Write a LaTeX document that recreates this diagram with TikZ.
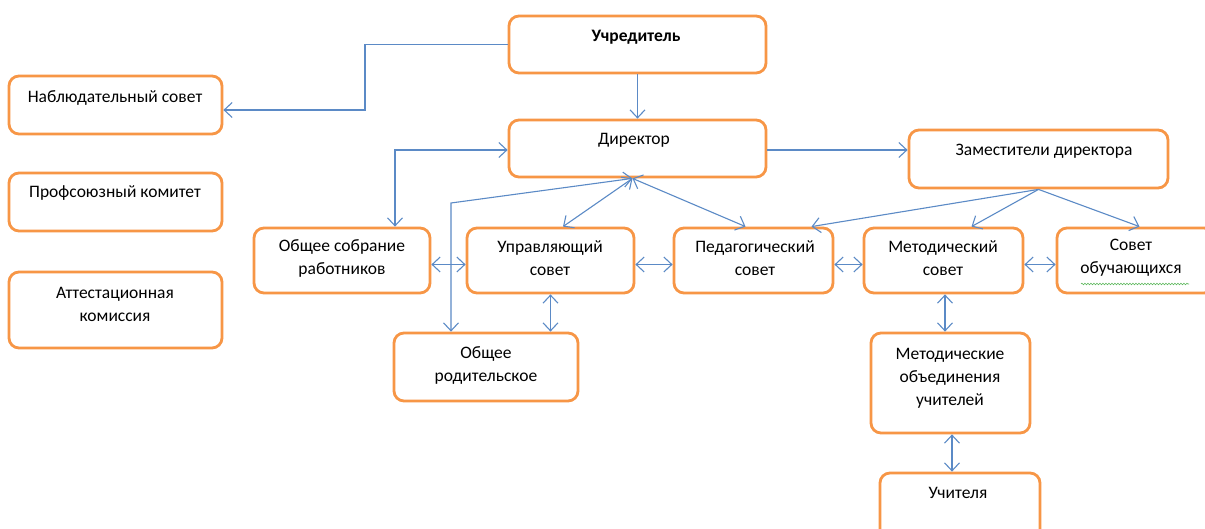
\documentclass[tikz,border=0pt]{standalone}
\usepackage{fontspec}
\setmainfont{Carlito}
\usetikzlibrary{arrows.meta,decorations.pathmorphing}
\definecolor{boxorange}{HTML}{F79646}
\definecolor{linkblue}{HTML}{5B8AC6}
\definecolor{spellgreen}{HTML}{5CB85C}
\tikzset{
  box/.style={draw=boxorange, line width=2.8pt, rounded corners=10pt, fill=white, inner sep=0pt, shape=rectangle},
  txt/.style={align=center, font=\fontsize{17.5}{23}\selectfont, inner sep=0pt, text=black},
  conn/.style={draw=linkblue, line width=1.1pt, >={Straight Barb[length=8pt,width=15pt]}},
}
\begin{document}
\begin{tikzpicture}[x=1pt,y=-1pt]
\fill[white] (0,0) rectangle (1205,529);
\clip (0,0) rectangle (1205,529);
% boxes
\node[box, minimum width=257pt, minimum height=57pt] (ucr) at (637.5,44.5) {};
\node[box, minimum width=213pt, minimum height=58pt] (nab) at (115.5,105) {};
\node[box, minimum width=213pt, minimum height=58pt] (prof) at (115.5,202) {};
\node[box, minimum width=213pt, minimum height=76pt] (att) at (115.5,310) {};
\node[box, minimum width=257pt, minimum height=57pt] (dir) at (637.5,148.5) {};
\node[box, minimum width=259pt, minimum height=58pt] (zam) at (1038.5,159) {};
\node[box, minimum width=176pt, minimum height=65pt] (obs) at (342,260.5) {};
\node[box, minimum width=167pt, minimum height=65pt] (upr) at (550.5,260.5) {};
\node[box, minimum width=159pt, minimum height=65pt] (ped) at (753.5,260.5) {};
\node[box, minimum width=159pt, minimum height=65pt] (met) at (943.5,260.5) {};
\node[box, minimum width=157pt, minimum height=65pt] (sov) at (1135.5,260.5) {};
\node[box, minimum width=184pt, minimum height=68pt] (rod) at (486,367) {};
\node[box, minimum width=159pt, minimum height=100pt] (mo) at (950.5,383) {};
\node[box, minimum width=160pt, minimum height=66pt] (uch) at (960,506) {};
% texts
\node[txt, font=\fontsize{17.5}{23}\selectfont\bfseries] (ucrT) at (636,37) {Учредитель};
\node[txt] (nabT) at (115,98) {Наблюдательный совет};
\node[txt] (profT) at (115,193) {Профсоюзный комитет};
\node[txt] (attT) at (115,304) {Аттестационная\\комиссия};
\node[txt] (dirT) at (634,140) {Директор};
\node[txt] (zamT) at (1044,151) {Заместители директора};
\node[txt] (obsT) at (342,258) {Общее собрание\\работников};
\node[txt] (uprT) at (550,258) {Управляющий\\совет};
\node[txt] (pedT) at (755,258) {Педагогический\\совет};
\node[txt] (metT) at (943,258) {Методический\\совет};
\node[txt] (sovT) at (1131,258) {Совет\\обучающихся};
\node[txt] (rodT) at (486,365) {Общее\\родительское};
\node[txt] (moT) at (950,378) {Методические\\объединения\\учителей};
\node[txt] (uchT) at (958,493) {Учителя};
% spell-check squiggle
\draw[spellgreen, line width=0.6pt, decorate, decoration={snake, amplitude=0.8pt, segment length=3pt}] (1081,284) -- (1189,284);
% connectors
\coordinate (conv) at ([xshift=-5pt]dir.south);
\draw[conn,->] (ucr.west) -- (365,44.5) -- (365,110) -- ([yshift=-5pt]nab.east);
\draw[conn,->] (ucr.south) -- (dir.north);
\draw[conn,->] ([yshift=-1.5pt]dir.east) -- ([yshift=-1.5pt]dir.east -| zam.west);
\draw[conn,<->] ([yshift=-1.5pt]dir.west) -| ([xshift=53pt]obs.north);
\draw[conn,<->] (conv) -- ([xshift=12.5pt]upr.north);
\draw[conn,<->] (conv) -- ([xshift=-8pt]ped.north);
\draw[conn,<->] (conv) -- (451,203) -- ([xshift=-35pt]rod.north);
\draw[conn,->] (zam.south) -- ([xshift=58pt]ped.north);
\draw[conn,->] (zam.south) -- ([xshift=28pt]met.north);
\draw[conn,->] (zam.south) -- ([xshift=4pt]sov.north);
\draw[conn,<->] ([yshift=-4pt]obs.east) -- ([yshift=-4pt]upr.west);
\draw[conn,<->] ([yshift=-4pt]upr.east) -- ([yshift=-4pt]ped.west);
\draw[conn,<->] ([yshift=-4pt]ped.east) -- ([yshift=-4pt]met.west);
\draw[conn,<->] ([yshift=-4pt]met.east) -- ([yshift=-4pt]sov.west);
\draw[conn,<->] (upr.south) -- (upr.south |- rod.north);
\draw[conn,<->] ([xshift=1.5pt]met.south) -- ([xshift=1.5pt]met.south |- mo.north);
\draw[conn,<->] ([xshift=1.5pt]mo.south) -- ([xshift=1.5pt]mo.south |- uch.north);
\end{tikzpicture}
\end{document}
